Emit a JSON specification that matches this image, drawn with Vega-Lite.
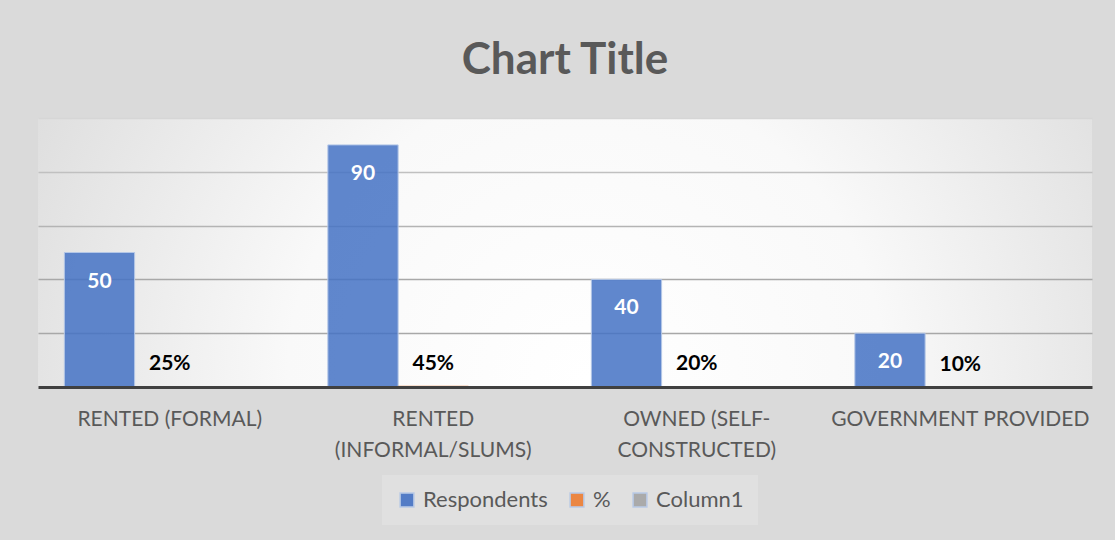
{
  "$schema": "https://vega.github.io/schema/vega-lite/v6.json",
  "width": 1054,
  "height": 269,
  "autosize": {"type": "none"},
  "padding": {"left": 38, "top": 118, "right": 23, "bottom": 153},
  "background": "#dadada",
  "title": {
    "text": "Chart Title",
    "anchor": "middle",
    "frame": "group",
    "font": "Lato",
    "fontSize": 44,
    "fontWeight": "bold",
    "color": "#595959",
    "offset": 35
  },
  "data": {
    "values": [
      {"category": "RENTED (FORMAL)", "series": "Respondents", "value": 50},
      {"category": "RENTED (FORMAL)", "series": "%", "value": 0.25},
      {"category": "RENTED (FORMAL)", "series": "Column1", "value": null},
      {"category": "RENTED (INFORMAL/SLUMS)", "series": "Respondents", "value": 90},
      {"category": "RENTED (INFORMAL/SLUMS)", "series": "%", "value": 0.45},
      {"category": "RENTED (INFORMAL/SLUMS)", "series": "Column1", "value": null},
      {"category": "OWNED (SELF-CONSTRUCTED)", "series": "Respondents", "value": 40},
      {"category": "OWNED (SELF-CONSTRUCTED)", "series": "%", "value": 0.2},
      {"category": "OWNED (SELF-CONSTRUCTED)", "series": "Column1", "value": null},
      {"category": "GOVERNMENT PROVIDED", "series": "Respondents", "value": 20},
      {"category": "GOVERNMENT PROVIDED", "series": "%", "value": 0.1},
      {"category": "GOVERNMENT PROVIDED", "series": "Column1", "value": null}
    ]
  },
  "encoding": {
    "x": {
      "field": "category",
      "type": "nominal",
      "sort": null,
      "scale": {"paddingInner": 0.2, "paddingOuter": 0.1},
      "axis": {
        "title": null,
        "labelAngle": 0,
        "ticks": false,
        "zindex": 1,
        "labelPadding": 21,
        "labelFont": "Lato",
        "labelFontSize": 21,
        "labelColor": "#595959",
        "labelLineHeight": 31,
        "labelBaseline": "top",
        "labelLimit": 400,
        "domainColor": "#404040",
        "domainWidth": 3,
        "labelExpr": "datum.value == 'RENTED (INFORMAL/SLUMS)' ? ['RENTED', '(INFORMAL/SLUMS)'] : datum.value == 'OWNED (SELF-CONSTRUCTED)' ? ['OWNED (SELF-', 'CONSTRUCTED)'] : datum.value"
      }
    },
    "xOffset": {"field": "series", "type": "nominal", "scale": {"domain": ["Respondents", "%", "Column1"]}},
    "y": {
      "field": "value",
      "type": "quantitative",
      "scale": {"domain": [0, 100]},
      "axis": {
        "title": null,
        "labels": false,
        "ticks": false,
        "domain": false,
        "values": [20, 40, 60, 80, 100],
        "gridColor": {
          "condition": [
            {"test": "datum.value == 100", "value": "#d6d6d6"},
            {"test": "datum.value == 80", "value": "#c0c0c0"},
            {"test": "datum.value == 60", "value": "#b4b4b4"}
          ],
          "value": "#a8a8a8"
        },
        "gridWidth": 1.5
      }
    }
  },
  "layer": [
    {
      "mark": {"type": "bar", "fillOpacity": 0.85, "stroke": "#b4c7e7"},
      "encoding": {
        "strokeWidth": {"condition": {"test": "datum.series == 'Respondents'", "value": 1}, "value": 0},
        "color": {
          "field": "series",
          "type": "nominal",
          "scale": {"domain": ["Respondents", "%", "Column1"], "range": ["#4472c4", "#ed7d31", "#a5a5a5"]},
          "legend": {
            "title": null,
            "orient": "none",
            "legendX": 344,
            "legendY": 357,
            "direction": "horizontal",
            "symbolType": "square",
            "symbolSize": 190,
            "symbolOpacity": 0.9,
            "labelFont": "Lato",
            "labelFontSize": 22,
            "labelColor": "#595959",
            "columnPadding": 18,
            "labelOffset": 5,
            "padding": 14,
            "fillColor": "rgba(255,255,255,0.18)"
          }
        }
      }
    },
    {
      "transform": [{"filter": "datum.series == 'Respondents'"}],
      "mark": {"type": "text", "baseline": "top", "dy": 18, "font": "Lato", "fontSize": 21, "fontWeight": "bold", "color": "#ffffff"},
      "encoding": {"text": {"field": "value", "type": "quantitative", "format": ".0f"}}
    },
    {
      "transform": [{"filter": "datum.series == '%'"}],
      "mark": {"type": "text", "baseline": "bottom", "dy": -12, "font": "Lato", "fontSize": 21, "fontWeight": "bold", "color": "#000000"},
      "encoding": {"text": {"field": "value", "type": "quantitative", "format": ".0%"}}
    }
  ],
  "config": {
    "view": {
      "stroke": null,
      "fill": {
        "gradient": "radial",
        "x1": 0.52, "y1": 0.62, "r1": 0,
        "x2": 0.52, "y2": 0.62, "r2": 0.63,
        "stops": [
          {"offset": 0, "color": "#ffffff"},
          {"offset": 0.45, "color": "#f9f9f9"},
          {"offset": 1, "color": "#dadada"}
        ]
      }
    }
  }
}
